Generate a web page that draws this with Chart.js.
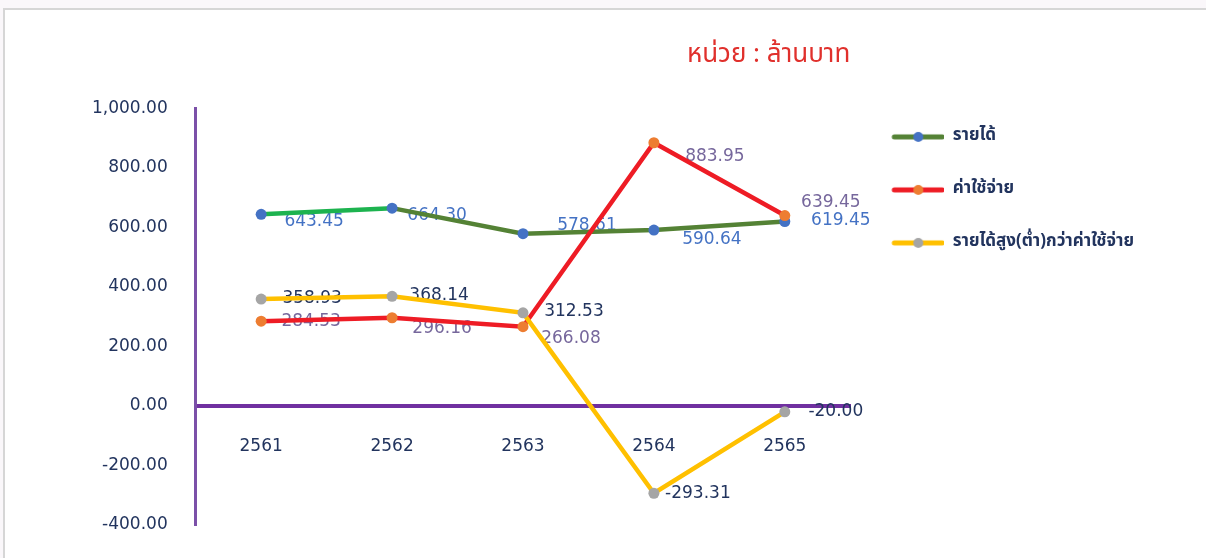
<!DOCTYPE html>
<html>
<head>
<meta charset="utf-8">
<script src="https://cdn.jsdelivr.net/npm/chart.js@4"></script>
<style>
html, body { margin: 0; padding: 0; background: #fff; }
#wrap { position: relative; width: 1206px; height: 558px; overflow: hidden; background: #faf7fa; }
#frame { position: absolute; left: 3px; top: 8px; right: -10px; bottom: -10px; background: #fff; border-top: 2px solid #d6d6d6; border-left: 2px solid #d6d6d6; }
canvas { position: absolute; left: 0; top: 0; }
</style>
</head>
<body>
<div id="wrap">
  <div id="frame"></div>
  <canvas id="chart" width="1206" height="558"></canvas>
</div>
<script>
const years = ['2561', '2562', '2563', '2564', '2565'];
const income = [643.45, 664.30, 578.61, 590.64, 619.45];
const expense = [284.53, 296.16, 266.08, 883.95, 639.45];
const surplus = [358.93, 368.14, 312.53, -293.31, -20.00];
const seriesNames = ['รายได้', 'ค่าใช้จ่าย', 'รายได้สูง(ต่ำ)กว่าค่าใช้จ่าย'];
const unitLabel = 'หน่วย : ล้านบาท';

const lineColors = ['#548235', '#ee1c25', '#ffc000'];
const pointColors = ['#4472c4', '#ed7d31', '#a5a5a5'];
const labelColors = ['#4472c4', '#76679c', '#22345e'];
const purple = '#7030a0';
const navy = '#22345e';

// where each value label sits relative to its point [dx, dy]
const labelOffsets = [
    [[53, 7], [45, 7], [64, -8], [58, 10], [56, -1]],
    [[50, 0], [50, 11], [48, 12], [61, 14], [46, -13]],
    [[51, 0], [47, -1], [51, -1], [44, 0], [51, 0]]
];

const numFont = '"DejaVu Sans", Verdana, sans-serif';
const thaiFont = 'Tahoma, "Noto Sans Thai", "Loma", "Garuda", "DejaVu Sans", sans-serif';

// little line+dot icons for the legend (left margin leaves a gap to the plot)
function legendIcon(lineColor, dotColor) {
    const c = document.createElement('canvas');
    c.width = 58;
    c.height = 12;
    const g = c.getContext('2d');
    g.strokeStyle = lineColor;
    g.lineWidth = 5;
    g.lineCap = 'round';
    g.beginPath();
    g.moveTo(8, 6);
    g.lineTo(56, 6);
    g.stroke();
    g.fillStyle = dotColor;
    g.beginPath();
    g.arc(32, 6, 5, 0, Math.PI * 2);
    g.fill();
    return c;
}
const icons = lineColors.map((c, i) => legendIcon(c, pointColors[i]));

const valueLabels = {
    id: 'valueLabels',
    beforeDatasetsDraw(chart) {
        const ctx = chart.ctx;
        ctx.save();
        ctx.font = '17px ' + numFont;
        ctx.textAlign = 'center';
        ctx.textBaseline = 'middle';
        chart.data.datasets.forEach((ds, i) => {
            const meta = chart.getDatasetMeta(i);
            ctx.fillStyle = labelColors[i];
            meta.data.forEach((pt, j) => {
                const off = labelOffsets[i][j];
                ctx.fillText(ds.data[j].toFixed(2), pt.x + off[0], pt.y + off[1]);
            });
        });
        ctx.restore();
    }
};

function makeDataset(i, values, order) {
    return {
        label: seriesNames[i],
        data: values,
        borderColor: lineColors[i],
        backgroundColor: pointColors[i],
        pointBackgroundColor: pointColors[i],
        pointBorderWidth: 0,
        pointRadius: 5.5,
        borderWidth: 4.5,
        tension: 0,
        order: order
    };
}

const incomeSet = makeDataset(0, income, 2);
incomeSet.segment = {
    borderColor: c => c.p0DataIndex === 0 ? '#1db34f' : lineColors[0]
};

const ctx = document.getElementById('chart');
new Chart(ctx, {
    type: 'line',
    data: {
        labels: years,
        datasets: [incomeSet, makeDataset(1, expense, 1), makeDataset(2, surplus, 0)]
    },
    options: {
        responsive: false,
        animation: false,
        devicePixelRatio: 1,
        layout: {
            padding: { left: 92, right: 62, top: 0, bottom: 33 }
        },
        scales: {
            x: {
                position: { y: 0 },
                offset: true,
                grid: { display: false },
                border: { color: purple, width: 4 },
                ticks: {
                    padding: 22,
                    color: navy,
                    font: { family: numFont, size: 17 }
                }
            },
            y: {
                min: -400,
                max: 1000,
                // invisible grid, only used for its tick length (gap between labels and axis)
                grid: { color: 'transparent', drawTicks: true, tickLength: 28 },
                border: { color: '#7b50a8', width: 3 },
                ticks: {
                    stepSize: 200,
                    padding: 0,
                    color: navy,
                    font: { family: numFont, size: 17 },
                    callback: v => v.toLocaleString('en-US', { minimumFractionDigits: 2, maximumFractionDigits: 2 })
                }
            }
        },
        plugins: {
            tooltip: { enabled: false },
            title: {
                display: true,
                text: unitLabel,
                fullSize: false,
                align: 'end',
                color: '#e0302c',
                font: { family: thaiFont, size: 26, weight: 'normal' },
                padding: { top: 41, bottom: 36 }
            },
            legend: {
                position: 'right',
                align: 'start',
                maxWidth: 400,
                title: {
                    display: true,
                    text: '',
                    padding: { top: 0, bottom: 78 }
                },
                labels: {
                    usePointStyle: true,
                    pointStyleWidth: 58,
                    padding: 36,
                    color: navy,
                    font: { family: thaiFont, size: 17, weight: 'bold' },
                    sort: (a, b) => a.datasetIndex - b.datasetIndex,
                    generateLabels: chart => {
                        const items = Chart.defaults.plugins.legend.labels.generateLabels(chart);
                        items.forEach(it => { it.pointStyle = icons[it.datasetIndex]; });
                        return items;
                    }
                }
            }
        }
    },
    plugins: [valueLabels]
});
</script>
</body>
</html>
